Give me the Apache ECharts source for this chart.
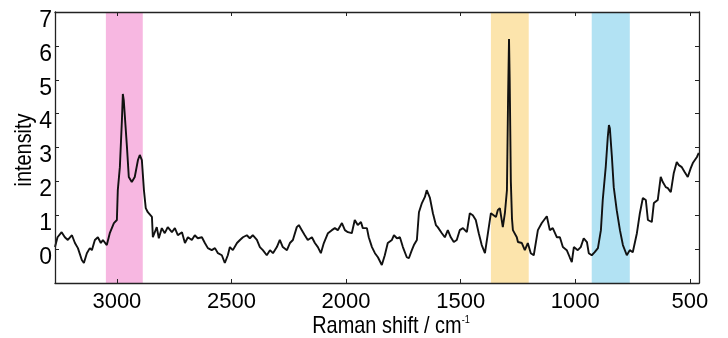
<!DOCTYPE html>
<html><head><meta charset="utf-8">
<script src="https://cdn.jsdelivr.net/npm/echarts@6/dist/echarts.min.js"></script>
<style>html,body{margin:0;padding:0;background:#fff}#c{width:728px;height:338px}</style>
</head><body><div id="c"></div>
<script>
const ramanShift = [3270,3259,3241,3227,3214,3196,3183,3170,3153,3144,3131,3118,3109,3096,3083,3070,3061,3044,3031,3013,3000,2996,2987,2978,2974,2970,2956,2948,2935,2922,2908,2900,2891,2882,2874,2865,2847,2843,2826,2817,2804,2791,2778,2760,2747,2734,2716,2703,2690,2673,2660,2647,2629,2616,2603,2586,2572,2559,2542,2529,2516,2507,2494,2476,2463,2450,2433,2420,2407,2389,2376,2363,2346,2332,2319,2302,2289,2276,2258,2245,2232,2215,2206,2193,2180,2167,2149,2136,2123,2110,2097,2079,2062,2049,2036,2018,2005,1992,1975,1962,1949,1935,1927,1909,1901,1887,1874,1861,1844,1831,1818,1800,1791,1778,1765,1752,1735,1726,1713,1704,1691,1682,1669,1656,1648,1634,1621,1608,1600,1582,1569,1556,1543,1530,1517,1504,1490,1473,1460,1447,1434,1421,1408,1394,1381,1368,1360,1346,1338,1329,1316,1307,1298,1293,1289,1286,1281,1276,1272,1255,1250,1233,1220,1207,1194,1181,1163,1146,1124,1111,1098,1080,1067,1054,1037,1024,1015,1006,989,976,963,949,941,928,915,901,888,880,867,858,853,849,840,832,819,805,792,775,762,749,731,718,705,692,683,666,657,640,627,618,605,596,583,570,557,548,535,522,509,496,487,469,461];
const intensity = [0.06,0.35,0.50,0.35,0.27,0.41,0.18,0.03,-0.32,-0.41,-0.12,0.03,-0.03,0.27,0.35,0.18,0.27,0.12,0.47,0.77,0.86,1.74,2.42,3.81,4.58,4.40,3.01,2.13,1.98,2.13,2.63,2.78,2.63,1.74,1.21,1.09,0.95,0.35,0.65,0.32,0.62,0.47,0.65,0.50,0.62,0.41,0.50,0.18,0.35,0.27,0.41,0.32,0.35,0.18,0.03,-0.03,0.03,-0.12,-0.18,-0.41,-0.18,0.06,-0.03,0.18,0.27,0.35,0.41,0.32,0.41,0.27,0.06,-0.03,-0.18,-0.03,-0.12,0.06,0.27,0.06,-0.03,0.18,0.27,0.65,0.71,0.56,0.41,0.27,0.35,0.18,0.06,-0.12,0.18,0.47,0.56,0.62,0.56,0.77,0.56,0.50,0.47,0.86,0.71,0.80,0.62,0.62,0.35,0.06,-0.12,-0.24,-0.47,-0.18,0.18,0.27,0.41,0.32,0.35,0.06,-0.24,-0.27,-0.03,0.12,0.27,1.09,1.36,1.54,1.74,1.51,1.06,0.71,0.65,0.47,0.35,0.56,0.35,0.21,0.27,0.56,0.62,0.50,1.06,1.00,0.86,0.47,0.12,-0.12,0.47,1.06,1.09,0.95,1.15,1.21,0.65,1.06,1.74,4.5,6.2,5.0,2.0,0.9,0.56,0.35,0.21,0.18,-0.03,0.18,-0.12,-0.18,0.56,0.77,0.97,0.56,0.62,0.35,0.35,0.06,-0.03,-0.24,-0.38,0.06,-0.03,0.06,0.32,0.21,-0.12,-0.18,-0.09,0.03,0.56,1.45,2.42,3.31,3.66,3.57,2.72,1.83,1.15,0.56,0.12,-0.18,-0.03,-0.09,0.47,1.06,1.51,1.45,0.86,0.80,1.36,1.45,2.13,1.98,1.83,1.80,1.68,2.25,2.57,2.48,2.42,2.27,2.13,2.39,2.54,2.72,2.84];
const xTicks = [500,1000,1500,2000,2500,3000];
const yTicks = [0,1,2,3,4,5,6,7];
const bandRanges = [[3048,2887],[1368,1203],[928,762]];
const bandColors = ['rgba(237,95,188,0.45)','rgba(248,195,71,0.45)','rgba(84,191,228,0.45)'];
const xTitle = 'Raman shift / cm';
const xTitleSup = '-1';
const yTitle = 'intensity';

const FONT = "'Liberation Sans',Arial,sans-serif";
const chart = echarts.init(document.getElementById('c'));
const lineData = ramanShift.map((x,i)=>[x,intensity[i]]);
const axisLine = {show:true, onZero:false, lineStyle:{color:'#222', width:1.3}};
const xBase = {type:'value', min:460, max:3270, inverse:true, z:10, splitLine:{show:false}, axisLine};
const yBase = {type:'value', min:-1, max:7, z:10, splitLine:{show:false}, axisLine};
chart.setOption({
  animation:false,
  textStyle:{fontFamily:FONT},
  grid:{left:55, right:29, top:12, bottom:55},
  xAxis:[
    Object.assign({}, xBase, {position:'bottom',
      axisTick:{inside:true, length:4, customValues:xTicks, lineStyle:{color:'#222'}},
      axisLabel:{customValues:xTicks, formatter:v=>String(v), fontFamily:FONT, fontSize:22, color:'#000', margin:8}
    }),
    Object.assign({}, xBase, {position:'top',
      axisTick:{inside:true, length:4, customValues:xTicks, lineStyle:{color:'#222'}},
      axisLabel:{show:false}})
  ],
  yAxis:[
    Object.assign({}, yBase, {position:'left',
      axisTick:{inside:true, length:4, customValues:yTicks, lineStyle:{color:'#222'}},
      axisLabel:{customValues:yTicks, formatter:v=>String(v), fontFamily:FONT, fontSize:23, color:'#000', margin:3, verticalAlign:'top', lineHeight:17}
    }),
    Object.assign({}, yBase, {position:'right',
      axisTick:{inside:true, length:4, customValues:yTicks, lineStyle:{color:'#222'}},
      axisLabel:{show:false}})
  ],
  graphic:[
    {type:'text', x:391, y:326, scaleX:0.83, silent:true,
     style:{text:xTitle+'{sup|'+xTitleSup+'}', fontFamily:FONT, fontSize:24, fill:'#000', align:'center', verticalAlign:'middle',
       rich:{sup:{fontFamily:FONT, fontSize:11, fill:'#000', verticalAlign:'top'}}}},
    {type:'text', x:24, y:150, rotation:Math.PI/2, scaleX:0.83, silent:true,
     style:{text:yTitle, fontFamily:FONT, fontSize:24, fill:'#000', align:'center', verticalAlign:'middle'}}
  ],
  series:[
    {type:'line', xAxisIndex:0, yAxisIndex:0, data:lineData, showSymbol:false, z:2,
     lineStyle:{color:'#111', width:1.9}},
    {type:'line', xAxisIndex:0, yAxisIndex:0, data:[], z:3, silent:true,
     markArea:{silent:true, data: bandRanges.map((r,i)=>[
       {xAxis:r[0], yAxis:-1, itemStyle:{color:bandColors[i]}},
       {xAxis:r[1], yAxis:7}
     ])}}
  ]
});
</script></body></html>
